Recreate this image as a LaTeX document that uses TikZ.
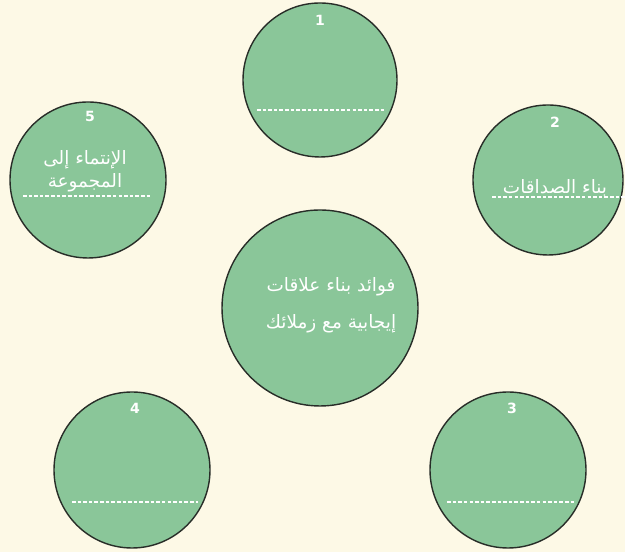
\documentclass[tikz,border=0pt]{standalone}
\usepackage{fontspec}
\usepackage{tikz}
\usetikzlibrary{positioning}
\TeXXeTstate=1
\newfontfamily\arabicfont[Script=Arabic]{DejaVu Sans}
\setsansfont{DejaVu Sans}
\definecolor{fondo}{RGB}{253,249,230}
\definecolor{verde}{RGB}{138,198,153}
\definecolor{borde}{RGB}{40,45,40}

\begin{document}
\begin{tikzpicture}[
  bola/.style={circle, draw=borde, line width=0.8pt, fill=verde, inner sep=0pt},
  numero/.style={text=white, font=\sffamily\bfseries\fontsize{8}{9}\selectfont},
  texto/.style={text=white, align=center, font=\arabicfont\fontsize{10.5}{13}\selectfont},
  linea/.style={draw=white, line width=0.6pt, dash pattern=on 2pt off 1.2pt}
]

% Fondo
\fill[fondo] (0,0) rectangle (12.5,11.04);
\useasboundingbox (0,0) rectangle (12.5,11.04);

% Circulo central
\node[bola, minimum size=3.92cm] (centro) at (6.4,4.88) {};
\node[texto, font=\arabicfont\fontsize{10.5}{21}\selectfont] (titulo) at (6.62,4.94)
  {\beginR فوائد بناء علاقات\endR\\ \beginR إيجابية مع زملائك\endR};

% Circulos exteriores
\node[bola, minimum size=3.08cm] (c1) at (6.4,9.44) {};
\node[bola, minimum size=3.0cm] (c2) at (10.96,7.44) {};
\node[bola, minimum size=3.12cm] (c3) at (10.16,1.64) {};
\node[bola, minimum size=3.12cm] (c4) at (2.64,1.64) {};
\node[bola, minimum size=3.12cm] (c5) at (1.76,7.44) {};

% Numeros
\node[numero] (n1) at (6.4,10.64) {1};
\node[numero] (n2) at (11.1,8.6) {2};
\node[numero] (n3) at (10.24,2.88) {3};
\node[numero] (n4) at (2.7,2.88) {4};
\node[numero] (n5) at (1.8,8.72) {5};

% Textos
\node[texto] (t2) at (11.1,7.28) {\beginR بناء الصداقات\endR};
\node[texto, font=\arabicfont\fontsize{10.5}{13}\selectfont] (t5) at (1.7,7.62)
  {\beginR الإنتماء إلى\endR\\ \beginR المجموعة\endR};

% Lineas punteadas
\draw[linea] (5.14,8.84) -- (7.7,8.84);
\draw[linea] (9.84,7.1) -- (12.5,7.1);
\draw[linea] (8.94,1.0) -- (11.5,1.0);
\draw[linea] (1.44,1.0) -- (3.96,1.0);
\draw[linea] (0.46,7.12) -- (3.0,7.12);

\end{tikzpicture}
\end{document}
